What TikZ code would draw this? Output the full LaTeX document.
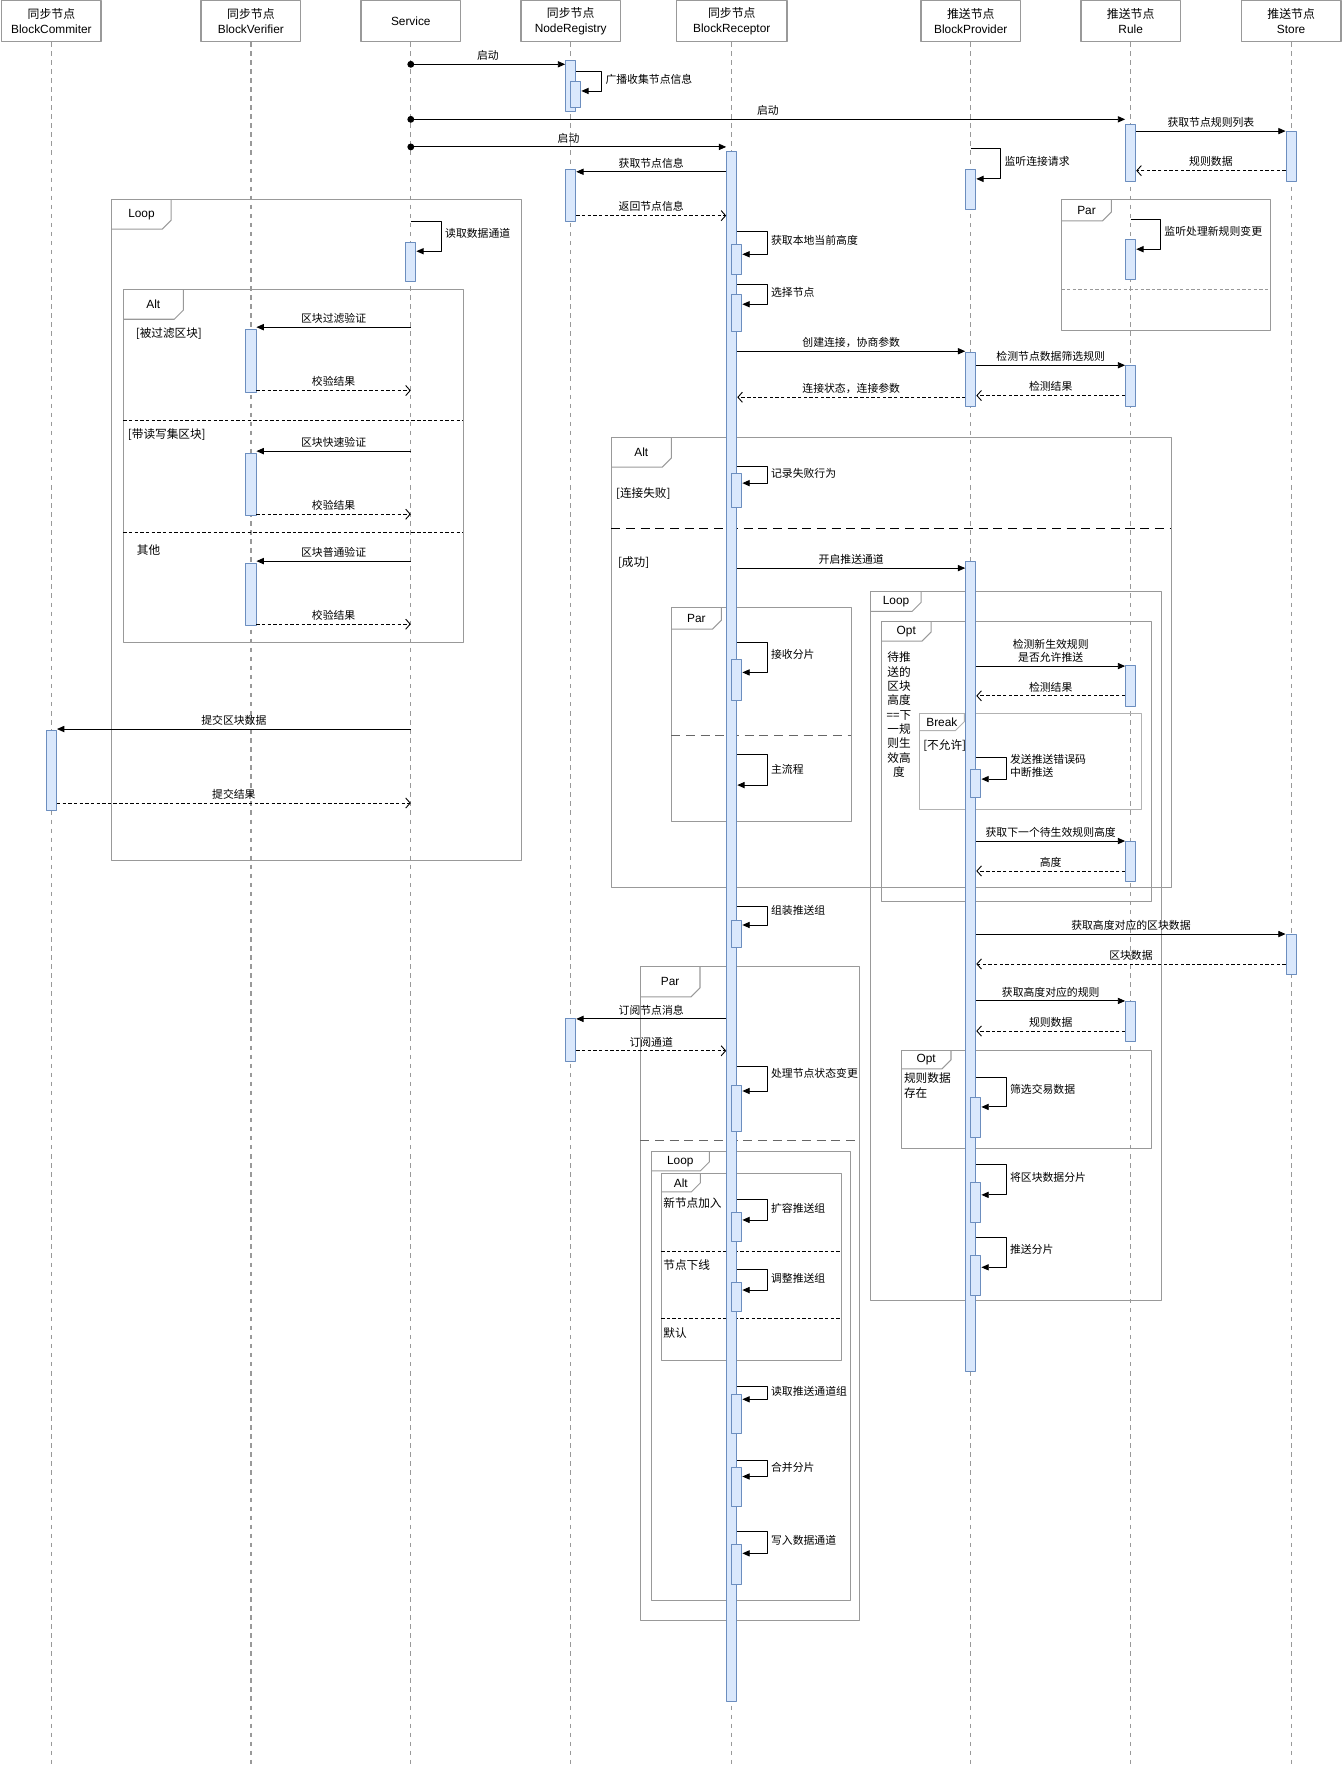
\documentclass[tikz,border=0pt]{standalone}
\usepackage{fontspec}
\setmainfont{Noto Sans CJK SC}
\newfontfamily\lat{Liberation Sans}
\usetikzlibrary{positioning}
\usetikzlibrary{arrows.meta}
\definecolor{actfill}{HTML}{DAE8FC}
\definecolor{actline}{HTML}{6C8EBF}
\definecolor{grayl}{HTML}{999999}

\begin{document}
\begin{tikzpicture}[x=1pt, y=-1pt, line join=round,
  head/.style={draw=grayl, line width=1.3pt, fill=white, minimum width=88pt, minimum height=36pt, inner sep=0pt, align=center, font=\fontsize{10.5}{13.3}\selectfont},
  life/.style={draw=grayl, line width=1.1pt, dash pattern=on 4pt off 4pt},
  act/.style={draw=actline, fill=actfill, line width=0.8pt, minimum width=9pt, inner sep=0pt, anchor=north},
  sub/.style={act, xshift=4.5pt},
  msg/.style={line width=0.8pt, -{Triangle[length=6.5pt,width=5.5pt]}},
  go/.style={msg, {Circle[length=6pt]}-{Triangle[length=6.5pt,width=5.5pt]}, shorten <=-3pt},
  ret/.style={line width=0.8pt, dash pattern=on 3pt off 2pt, -{Straight Barb[length=4pt,width=9pt]}},
  lbl/.style={midway, anchor=south, inner sep=0pt, yshift=3pt, align=center, font=\fontsize{9.6}{11.8}\selectfont},
  slbl/.style={pos=0.2, anchor=west, inner sep=0pt, xshift=3pt, align=left, font=\fontsize{9.6}{11.8}\selectfont},
  frm/.style={draw=grayl, line width=0.9pt},
  ftxt/.style={inner sep=0pt, font=\lat\fontsize{10.5}{12}\selectfont},
  guard/.style={anchor=west, inner sep=0pt, align=left, font=\fontsize{10.3}{12.9}\selectfont},
  sep/.style={line width=0.7pt, dash pattern=on 3pt off 2pt},
  sepl/.style={line width=0.9pt, dash pattern=on 8pt off 5pt}]
  \useasboundingbox (0,0) rectangle (1188,1568);

  \node[head] (com) at (45.5,18.5) {同步节点\\{\lat BlockCommiter}};
  \node[head] (ver) [right of = com, node distance = 176.5pt] {同步节点\\{\lat BlockVerifier}};
  \node[head] (svc) [right of = ver, node distance = 141.5pt] {\lat Service};
  \node[head] (reg) [right of = svc, node distance = 141.5pt] {同步节点\\{\lat NodeRegistry}};
  \node[head, minimum width=98pt] (rec) [right of = reg, node distance = 142.5pt] {同步节点\\{\lat BlockReceptor}};
  \node[head] (pro) [right of = rec, node distance = 211.5pt] {推送节点\\{\lat BlockProvider}};
  \node[head] (rul) [right of = pro, node distance = 141.5pt] {推送节点\\{\lat Rule}};
  \node[head] (sto) [right of = rul, node distance = 142pt] {推送节点\\{\lat Store}};

  \foreach \n in {com,ver,svc,reg,rec,pro,rul,sto}
    \draw[life] (\n.south) -- (\n |- 0,1562);

  \draw[frm] (98.8,176.3) rectangle (461.5,761.6);
  \draw[frm] (98.8,202.8) -- (143.5,202.8) -- (151.5,194.8) -- (151.5,176.3);
  \node[ftxt] (f1) at (125.2,189.6) {Loop};
  \draw[frm] (109.1,255.9) rectangle (409.8,568.2);
  \draw[frm] (109.1,282.5) -- (154.2,282.5) -- (162.2,274.5) -- (162.2,255.9);
  \node[ftxt] (f2) at (135.7,269.2) {Alt};
  \draw[sep] (109.1,372.4) -- (409.8,372.4);
  \draw[sep] (109.1,470.9) -- (409.8,470.9);
  \draw[frm] (939.2,176.3) rectangle (1124.6,292.8);
  \draw[frm] (939.2,195.5) -- (975.5,195.5) -- (983.5,187.5) -- (983.5,176.3);
  \node[ftxt] (f3) at (961.4,185.9) {Par};
  \draw[sep, grayl] (939.2,256.5) -- (1124.6,256.5);
  \draw[frm] (540.9,386.9) rectangle (1036.2,784.9);
  \draw[frm] (540.9,413.4) -- (586,413.4) -- (594,405.4) -- (594,386.9);
  \node[ftxt] (f4) at (567.5,400.2) {Alt};
  \draw[sepl] (540.9,468) -- (1036.2,468);
  \draw[frm] (594,537.2) rectangle (753.2,726.5);
  \draw[frm] (594,556.7) -- (630.4,556.7) -- (638.4,548.7) -- (638.4,537.2);
  \node[ftxt] (f5) at (616.2,547) {Par};
  \draw[sepl, black!60] (594,651) -- (753.2,651);
  \draw[frm] (770.7,523.4) rectangle (1027.4,1150.8);
  \draw[frm] (770.7,541) -- (807.1,541) -- (815.1,533) -- (815.1,523.4);
  \node[ftxt] (f6) at (792.9,532.2) {Loop};
  \draw[frm] (779.9,549.6) rectangle (1018.6,797.3);
  \draw[frm] (779.9,567.3) -- (815.9,567.3) -- (823.9,559.3) -- (823.9,549.6);
  \node[ftxt] (f7) at (801.9,558.5) {Opt};
  \draw[frm, draw=black!30] (813.4,631.3) rectangle (1009.7,716.5);
  \draw[frm, draw=black!30] (813.4,646.6) -- (845.3,646.6) -- (853.3,638.6) -- (853.3,631.3);
  \node[ftxt] (f8) at (833.4,639) {Break};
  \draw[frm] (797.5,929.4) rectangle (1018.6,1016.4);
  \draw[frm] (797.5,945.9) -- (833.5,945.9) -- (841.5,937.9) -- (841.5,929.4);
  \node[ftxt] (f9) at (819.5,937.7) {Opt};
  \draw[frm] (566.6,855.6) rectangle (760.9,1434.2);
  \draw[frm] (566.6,882.2) -- (611.4,882.2) -- (619.4,874.2) -- (619.4,855.6);
  \node[ftxt] (f10) at (593,868.9) {Par};
  \draw[sepl, black!60] (566.6,1008.8) -- (760.9,1008.8);
  \draw[frm] (576.1,1019) rectangle (752.2,1416.4);
  \draw[frm] (576.1,1036) -- (619.8,1036) -- (627.8,1028) -- (627.8,1019);
  \node[ftxt] (f11) at (602,1027.5) {Loop};
  \draw[frm] (585,1038.8) rectangle (744.5,1203.9);
  \draw[frm] (585,1054.6) -- (611.8,1054.6) -- (619.8,1046.6) -- (619.8,1038.8);
  \node[ftxt] (f12) at (602.4,1046.7) {Alt};
  \draw[sep] (585,1107.1) -- (744.5,1107.1);
  \draw[sep] (585,1166.4) -- (744.5,1166.4);

  \node[guard] (g1) at (120,294.8) {[被过滤区块]};
  \node[guard] (g2) at (113,384.8) {[带读写集区块]};
  \node[guard] (g3) at (121,487.1) {其他};
  \node[guard] (g4) at (545,436.4) {[连接失败]};
  \node[guard] (g5) at (546.7,497.7) {[成功]};
  \node[guard, anchor=center, align=center, font=\fontsize{10.3}{12.7}\selectfont] (g6) at (795.5,632.5) {待推\\送的\\区块\\高度\\==下\\一规\\则生\\效高\\度};
  \node[guard] (g7) at (816.8,659.6) {[不允许]};
  \node[guard, font=\fontsize{10.3}{13.2}\selectfont] (g8) at (799.8,960.5) {规则数据\\存在};
  \node[guard] (g9) at (586.8,1064.5) {新节点加入};
  \node[guard] (g10) at (586.8,1119.4) {节点下线};
  \node[guard] (g11) at (586.8,1179.8) {默认};

  \node[act, minimum height=71pt] (com1) at (com |- 0,646) {};
  \node[act, minimum height=55.2pt] (ver1) at (ver |- 0,291.3) {};
  \node[act, minimum height=54.8pt] (ver2) at (ver |- 0,401) {};
  \node[act, minimum height=54.8pt] (ver3) at (ver |- 0,498.3) {};
  \node[act, minimum height=35.1pt] (svc1) at (svc |- 0,213.8) {};
  \node[act, minimum height=44.5pt] (reg1) at (reg |- 0,53.5) {};
  \node[sub, minimum height=23.5pt] (reg1b) at (reg |- 0,71.5) {};
  \node[act, minimum height=45.7pt] (reg2) at (reg |- 0,149.8) {};
  \node[act, minimum height=37.5pt] (reg3) at (reg |- 0,901) {};
  \node[act, minimum height=1371.4pt] (rec0) at (rec |- 0,133.6) {};
  \node[sub, minimum height=26.6pt] (rec1) at (rec |- 0,216) {};
  \node[sub, minimum height=32.5pt] (rec2) at (rec |- 0,260.3) {};
  \node[sub, minimum height=29.5pt] (rec3) at (rec |- 0,418.7) {};
  \node[sub, minimum height=36pt] (rec4) at (rec |- 0,583.2) {};
  \node[sub, minimum height=23.6pt] (rec5) at (rec |- 0,814.4) {};
  \node[sub, minimum height=40.3pt] (rec6) at (rec |- 0,960.2) {};
  \node[sub, minimum height=25.6pt] (rec7) at (rec |- 0,1072.4) {};
  \node[sub, minimum height=25.6pt] (rec8) at (rec |- 0,1134.4) {};
  \node[sub, minimum height=34.8pt] (rec9) at (rec |- 0,1233.1) {};
  \node[sub, minimum height=34.7pt] (rec10) at (rec |- 0,1298.3) {};
  \node[sub, minimum height=35.1pt] (rec11) at (rec |- 0,1366.2) {};
  \node[act, minimum height=35.4pt] (pro1) at (pro |- 0,149.5) {};
  \node[act, minimum height=47.3pt] (pro2) at (pro |- 0,311.6) {};
  \node[act, minimum height=716.2pt] (pro3) at (pro |- 0,496.8) {};
  \node[sub, minimum height=24.8pt] (pro4) at (pro |- 0,680.5) {};
  \node[sub, minimum height=35.4pt] (pro5) at (pro |- 0,970.6) {};
  \node[sub, minimum height=35.4pt] (pro6) at (pro |- 0,1045.8) {};
  \node[sub, minimum height=35.3pt] (pro7) at (pro |- 0,1110.2) {};
  \node[act, minimum height=50pt] (rul1) at (rul |- 0,110) {};
  \node[act, minimum height=35.3pt] (rul2) at (rul |- 0,211.7) {};
  \node[act, minimum height=36pt] (rul3) at (rul |- 0,322.9) {};
  \node[act, minimum height=35.7pt] (rul4) at (rul |- 0,588.8) {};
  \node[act, minimum height=35.4pt] (rul5) at (rul |- 0,744.2) {};
  \node[act, minimum height=35.7pt] (rul6) at (rul |- 0,885.7) {};
  \node[act, minimum height=44pt] (sto1) at (sto |- 0,116) {};
  \node[act, minimum height=35.5pt] (sto2) at (sto |- 0,826.5) {};

  \draw[go] (svc |- 0,56.9) -- (reg1.west |- 0,56.9) node[lbl] {启动};
  \draw[msg] (reg1.east |- 0,62.8) -- ++(22.5,0) |- (reg1b.east |- 0,80.5) node[slbl] {广播收集节点信息};
  \draw[go] (svc |- 0,105.6) -- (rul1.west |- 0,105.6) node[lbl] {启动};
  \draw[msg] (rul1.east |- 0,116) -- (sto1.west |- 0,116) node[lbl] {获取节点规则列表};
  \draw[ret] (sto1.west |- 0,151) -- (rul1.east |- 0,151) node[lbl] {规则数据};
  \draw[go] (svc |- 0,130) -- (rec0.west |- 0,130) node[lbl] {启动};
  \draw[msg] (rec0.west |- 0,152) -- (reg2.east |- 0,152) node[lbl] {获取节点信息};
  \draw[ret] (reg2.east |- 0,190.8) -- (rec0.west |- 0,190.8) node[lbl] {返回节点信息};
  \draw[msg] (pro |- 0,131.8) -- ++(26.5,0) |- (pro1.east |- 0,158.3) node[slbl] {监听连接请求};
  \draw[msg] (rul |- 0,194) -- ++(26.5,0) |- (rul2.east |- 0,220.5) node[slbl] {监听处理新规则变更};
  \draw[msg] (svc |- 0,196.1) -- ++(27,0) |- (svc1.east |- 0,222.3) node[slbl] {读取数据通道};
  \draw[msg] (rec0.east |- 0,204.6) -- ++(26.5,0) |- (rec1.east |- 0,225) node[slbl] {获取本地当前高度};
  \draw[msg] (rec0.east |- 0,251.5) -- ++(26.5,0) |- (rec2.east |- 0,269.2) node[slbl] {选择节点};

  \draw[msg] (svc |- 0,289.5) -- (ver1.east |- 0,289.5) node[lbl] {区块过滤验证};
  \draw[ret] (ver1.east |- 0,345.6) -- (svc |- 0,345.6) node[lbl] {校验结果};
  \draw[msg] (svc |- 0,399.2) -- (ver2.east |- 0,399.2) node[lbl] {区块快速验证};
  \draw[ret] (ver2.east |- 0,455) -- (svc |- 0,455) node[lbl] {校验结果};
  \draw[msg] (svc |- 0,496.5) -- (ver3.east |- 0,496.5) node[lbl] {区块普通验证};
  \draw[ret] (ver3.east |- 0,552.3) -- (svc |- 0,552.3) node[lbl] {校验结果};
  \draw[msg] (svc |- 0,645.1) -- (com1.east |- 0,645.1) node[lbl] {提交区块数据};
  \draw[ret] (com1.east |- 0,710.6) -- (svc |- 0,710.6) node[lbl] {提交结果};

  \draw[msg] (rec0.east |- 0,310.8) -- (pro2.west |- 0,310.8) node[lbl] {创建连接，协商参数};
  \draw[msg] (pro2.east |- 0,323.2) -- (rul3.west |- 0,323.2) node[lbl] {检测节点数据筛选规则};
  \draw[ret] (rul3.west |- 0,350) -- (pro2.east |- 0,350) node[lbl] {检测结果};
  \draw[ret] (pro2.west |- 0,351.5) -- (rec0.east |- 0,351.5) node[lbl] {连接状态，连接参数};
  \draw[msg] (rec0.east |- 0,412.8) -- ++(26.5,0) |- (rec3.east |- 0,427.5) node[slbl] {记录失败行为};
  \draw[msg] (rec0.east |- 0,502.7) -- (pro3.west |- 0,502.7) node[lbl] {开启推送通道};
  \draw[msg] (rec0.east |- 0,568.5) -- ++(26.5,0) |- (rec4.east |- 0,595) node[slbl] {接收分片};
  \draw[msg] (rec0.east |- 0,667.6) -- ++(26.5,0) |- (rec0.east |- 0,694.7) node[slbl, pos=0.25] {主流程};
  \draw[msg] (pro3.east |- 0,589.4) -- (rul4.west |- 0,589.4) node[lbl] {检测新生效规则\\是否允许推送};
  \draw[ret] (rul4.west |- 0,615.7) -- (pro3.east |- 0,615.7) node[lbl] {检测结果};
  \draw[msg] (pro3.east |- 0,669.9) -- ++(26.5,0) |- (pro4.east |- 0,689.4) node[slbl] {发送推送错误码\\中断推送};
  \draw[msg] (pro3.east |- 0,744.2) -- (rul5.west |- 0,744.2) node[lbl] {获取下一个待生效规则高度};
  \draw[ret] (rul5.west |- 0,770.7) -- (pro3.east |- 0,770.7) node[lbl] {高度};
  \draw[msg] (rec0.east |- 0,802) -- ++(26.5,0) |- (rec5.east |- 0,818.5) node[slbl, pos=0.12] {组装推送组};
  \draw[msg] (pro3.east |- 0,826.5) -- (sto2.west |- 0,826.5) node[lbl] {获取高度对应的区块数据};
  \draw[ret] (sto2.west |- 0,853) -- (pro3.east |- 0,853) node[lbl] {区块数据};
  \draw[msg] (pro3.east |- 0,885.7) -- (rul6.west |- 0,885.7) node[lbl] {获取高度对应的规则};
  \draw[ret] (rul6.west |- 0,912.3) -- (pro3.east |- 0,912.3) node[lbl] {规则数据};
  \draw[msg] (pro3.east |- 0,953) -- ++(26.5,0) |- (pro5.east |- 0,979.5) node[slbl] {筛选交易数据};
  \draw[msg] (pro3.east |- 0,1030.8) -- ++(26.5,0) |- (pro6.east |- 0,1057.3) node[slbl] {将区块数据分片};
  \draw[msg] (pro3.east |- 0,1094.8) -- ++(26.5,0) |- (pro7.east |- 0,1121.4) node[slbl] {推送分片};

  \draw[msg] (rec0.west |- 0,901.6) -- (reg3.east |- 0,901.6) node[lbl] {订阅节点消息};
  \draw[ret] (reg3.east |- 0,929.8) -- (rec0.west |- 0,929.8) node[lbl] {订阅通道};
  \draw[msg] (rec0.east |- 0,944) -- ++(26.5,0) |- (rec6.east |- 0,965.4) node[slbl, pos=0.14] {处理节点状态变更};
  \draw[msg] (rec0.east |- 0,1061.7) -- ++(26.5,0) |- (rec7.east |- 0,1079.5) node[slbl] {扩容推送组};
  \draw[msg] (rec0.east |- 0,1123.7) -- ++(26.5,0) |- (rec8.east |- 0,1141.5) node[slbl] {调整推送组};
  \draw[msg] (rec0.east |- 0,1226.4) -- ++(26.5,0) |- (rec9.east |- 0,1238.2) node[slbl] {读取推送通道组};
  \draw[msg] (rec0.east |- 0,1292.7) -- ++(26.5,0) |- (rec10.east |- 0,1306.5) node[slbl] {合并分片};
  \draw[msg] (rec0.east |- 0,1355.2) -- ++(26.5,0) |- (rec11.east |- 0,1374.5) node[slbl] {写入数据通道};
\end{tikzpicture}
\end{document}
